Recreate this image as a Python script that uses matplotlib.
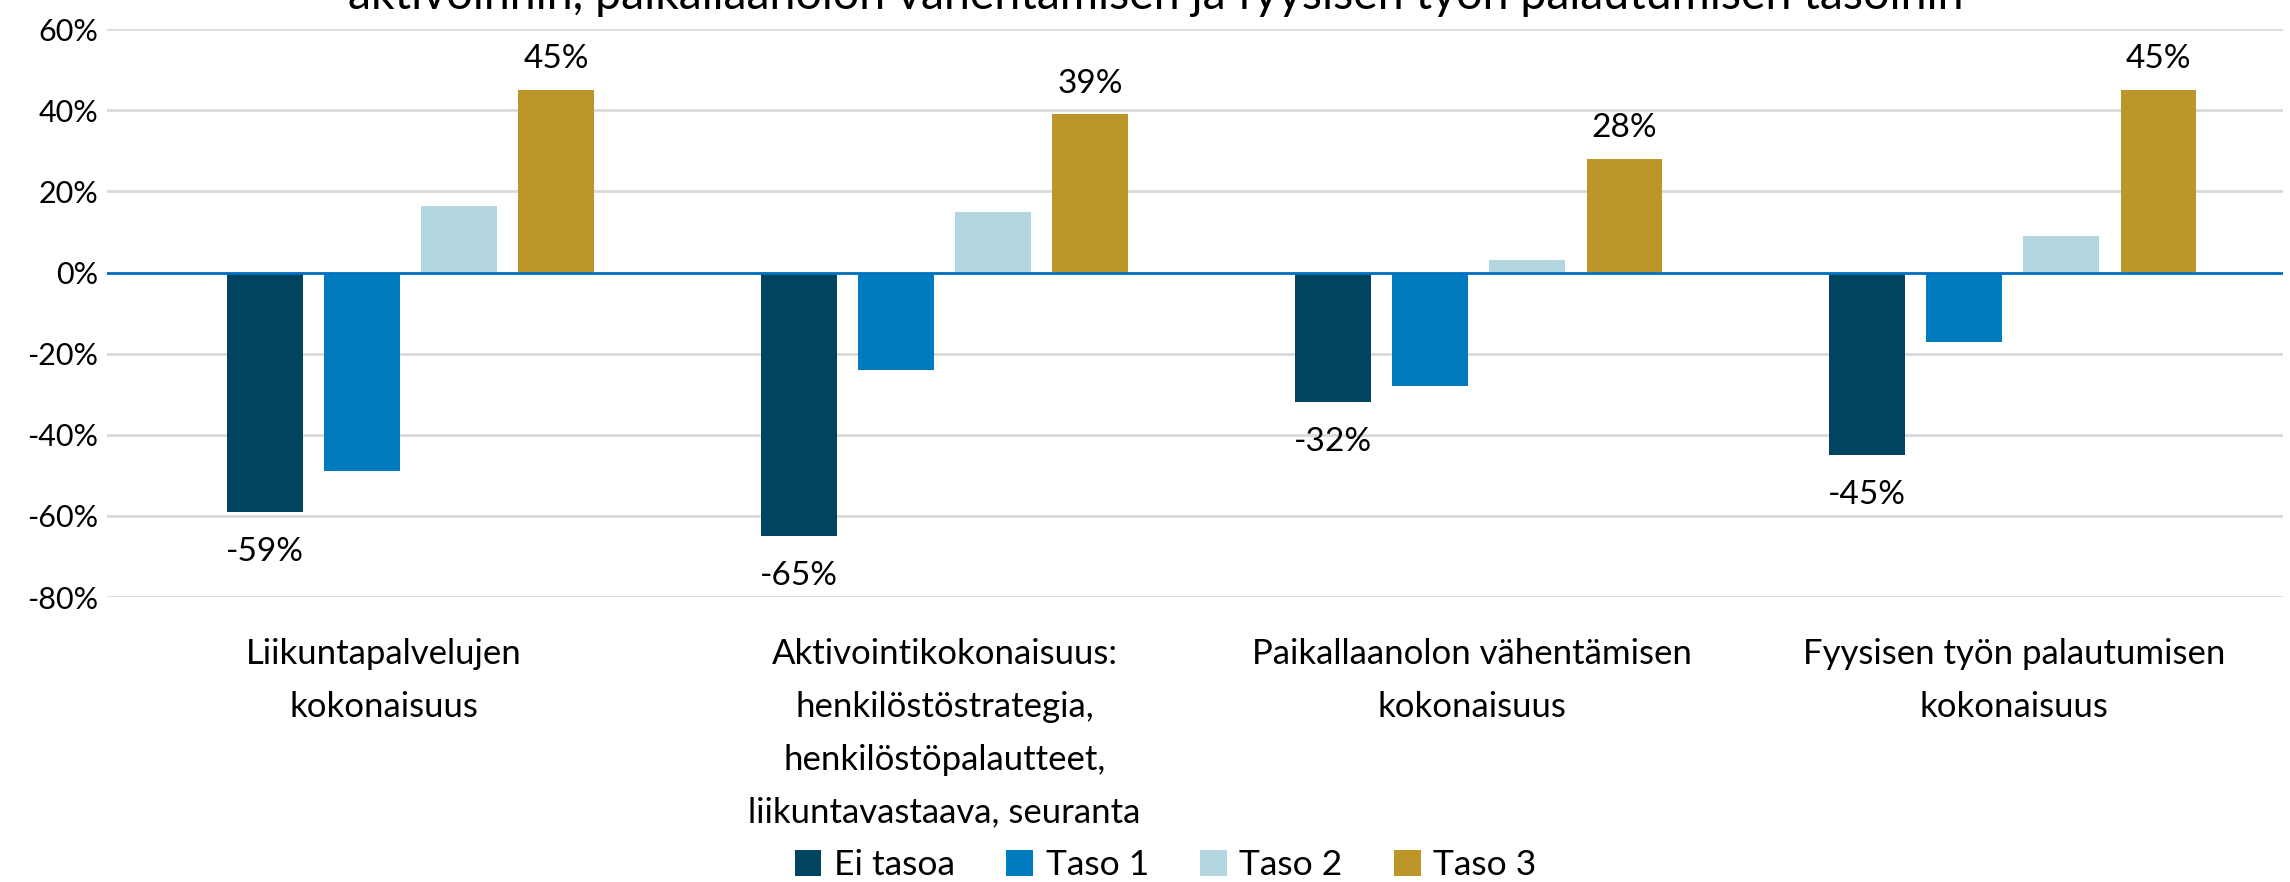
import matplotlib
matplotlib.use("Agg")
import matplotlib.pyplot as plt
import numpy as np
from matplotlib.patches import Patch

categories = [
    "Liikuntapalvelujen\nkokonaisuus",
    "Aktivointikokonaisuus:\nhenkilöstöstrategia,\nhenkilöstöpalautteet,\nliikuntavastaava, seuranta",
    "Paikallaanolon vähentämisen\nkokonaisuus",
    "Fyysisen työn palautumisen\nkokonaisuus",
]
series_names = ["Ei tasoa", "Taso 1", "Taso 2", "Taso 3"]
ei_tasoa = [-59, -65, -32, -45]
taso1 = [-49, -24, -28, -17]
taso2 = [16.5, 15, 3, 9]
taso3 = [45, 39, 28, 45]
yticks = [-80, -60, -40, -20, 0, 20, 40, 60]
title_text = "aktivoinnin, paikallaanolon vähentämisen ja fyysisen työn palautumisen tasoihin"

colors = ["#00445F", "#007BBD", "#B4D6E0", "#BD962A"]

plt.rcParams['font.family'] = ['Lato', 'DejaVu Sans']

fig = plt.figure(figsize=(22.9, 8.82), dpi=100)
ax = fig.add_axes([0.0466, 0.323, 0.9503, 0.644])

x = np.arange(len(categories))
width = 0.142
step = 0.182
all_series = [ei_tasoa, taso1, taso2, taso3]
bars = []
for i, (vals, c) in enumerate(zip(all_series, colors)):
    b = ax.bar(x + (i - 1.5) * step, vals, width, color=c, zorder=3)
    bars.append(b)

# data labels for Ei tasoa (below) and Taso 3 (above)
for rect, v in zip(bars[0], ei_tasoa):
    ax.annotate(f"{v}%", (rect.get_x() + rect.get_width() / 2, v),
                xytext=(0, -35), textcoords="offset points",
                ha="center", va="baseline", fontsize=24)
for rect, v in zip(bars[3], taso3):
    ax.annotate(f"{v}%", (rect.get_x() + rect.get_width() / 2, v),
                xytext=(0, 15.5), textcoords="offset points",
                ha="center", va="baseline", fontsize=24)

ax.set_ylim(-80, 60)
ax.set_xlim(-0.569, 3.506)
ax.set_yticks(yticks)
ax.set_yticklabels([f"{t}%" for t in yticks], fontsize=22)
ax.tick_params(axis="y", length=0, pad=6)
ax.tick_params(axis="x", length=0)
ax.set_xticks([])
ax.yaxis.grid(True, color="#D9D9D9", linewidth=2, zorder=0)
ax.axhline(0, color="#0070C0", linewidth=2, zorder=4)
for s in ax.spines.values():
    s.set_visible(False)

# category labels
label_x = [-0.05, 0, -0.013, 0.003]
for xi, off, lab in zip(x, label_x, categories):
    ax.text(xi + off, -0.072, lab, transform=ax.get_xaxis_transform(),
            ha="center", va="top", fontsize=25, linespacing=1.8)

# cut-off title
fig.text(0.5046, 1 - 9 / 882, title_text, ha="center", va="baseline", fontsize=33.5)

handles = [Patch(facecolor=c, label=n) for c, n in zip(colors, series_names)]
fig.legend(handles=handles, loc="center", bbox_to_anchor=(0.509, 0.019), ncol=4,
           frameon=False, fontsize=25.5, handlelength=0.76, handleheight=0.76,
           handletextpad=0.35, columnspacing=1.45)

fig.savefig("out.png", dpi=100)
